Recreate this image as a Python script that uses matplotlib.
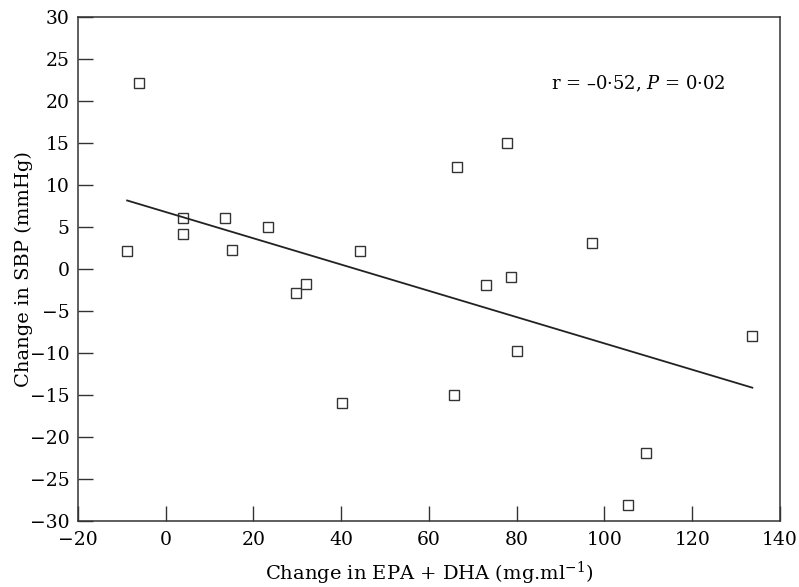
import numpy as np
import matplotlib.pyplot as plt

plt.rcParams['font.family'] = ['DejaVu Serif']
plt.rcParams['mathtext.fontset'] = 'dejavuserif'

# change in EPA + DHA (mg/ml) vs change in SBP (mmHg)
epa_dha = [-8.8, -6.1, 3.9, 3.9, 13.5, 15.1, 23.3, 29.6, 31.9, 40.1, 44.2,
           65.6, 66.3, 72.9, 77.7, 78.6, 80.0, 97.1, 105.3, 109.4, 133.7]
sbp = [2.1, 22.1, 6.1, 4.2, 6.1, 2.3, 5.0, -2.9, -1.8, -16.0, 2.1,
       -15.0, 12.1, -1.9, 15.0, -0.9, -9.7, 3.1, -28.1, -21.9, -8.0]

x = np.array(epa_dha)
y = np.array(sbp)
slope, intercept = np.polyfit(x, y, 1)
xs = np.array([x.min(), x.max()])

fig = plt.figure(figsize=(7.99, 5.87), dpi=100)
ax = fig.add_axes([0.0976, 0.1124, 0.8786, 0.8586])

ax.plot(x, y, 's', markersize=7.5, markerfacecolor='white',
        markeredgecolor='#333333', markeredgewidth=1.0, linestyle='none')
ax.plot(xs, slope * xs + intercept, color='#222222', linewidth=1.3)

ax.set_xlim(-20, 140)
ax.set_ylim(-30, 30)
ax.set_xticks(range(-20, 141, 20))
ax.set_yticks(range(-30, 31, 5))
ax.set_xticklabels([str(v).replace('-', '\u2212') for v in range(-20, 141, 20)])
ax.set_yticklabels([str(v).replace('-', '\u2212') for v in range(-30, 31, 5)])
ax.tick_params(direction='in', length=11, width=1, color='#333333',
               labelsize=13.5)
ax.tick_params(axis='x', pad=7)
ax.tick_params(axis='y', pad=6)
for s in ax.spines.values():
    s.set_color('#333333')
    s.set_linewidth(1.1)

ax.set_xlabel('Change in EPA + DHA (mg.ml$^{-1}$)', fontsize=14, labelpad=8)
ax.set_ylabel('Change in SBP (mmHg)', fontsize=14, labelpad=-2)
ax.text(107.6, 22.1, 'r = \u20130\u00b752, $P$ = 0\u00b702', fontsize=13,
        ha='center', va='center')

fig.savefig('out.png', dpi=100)
